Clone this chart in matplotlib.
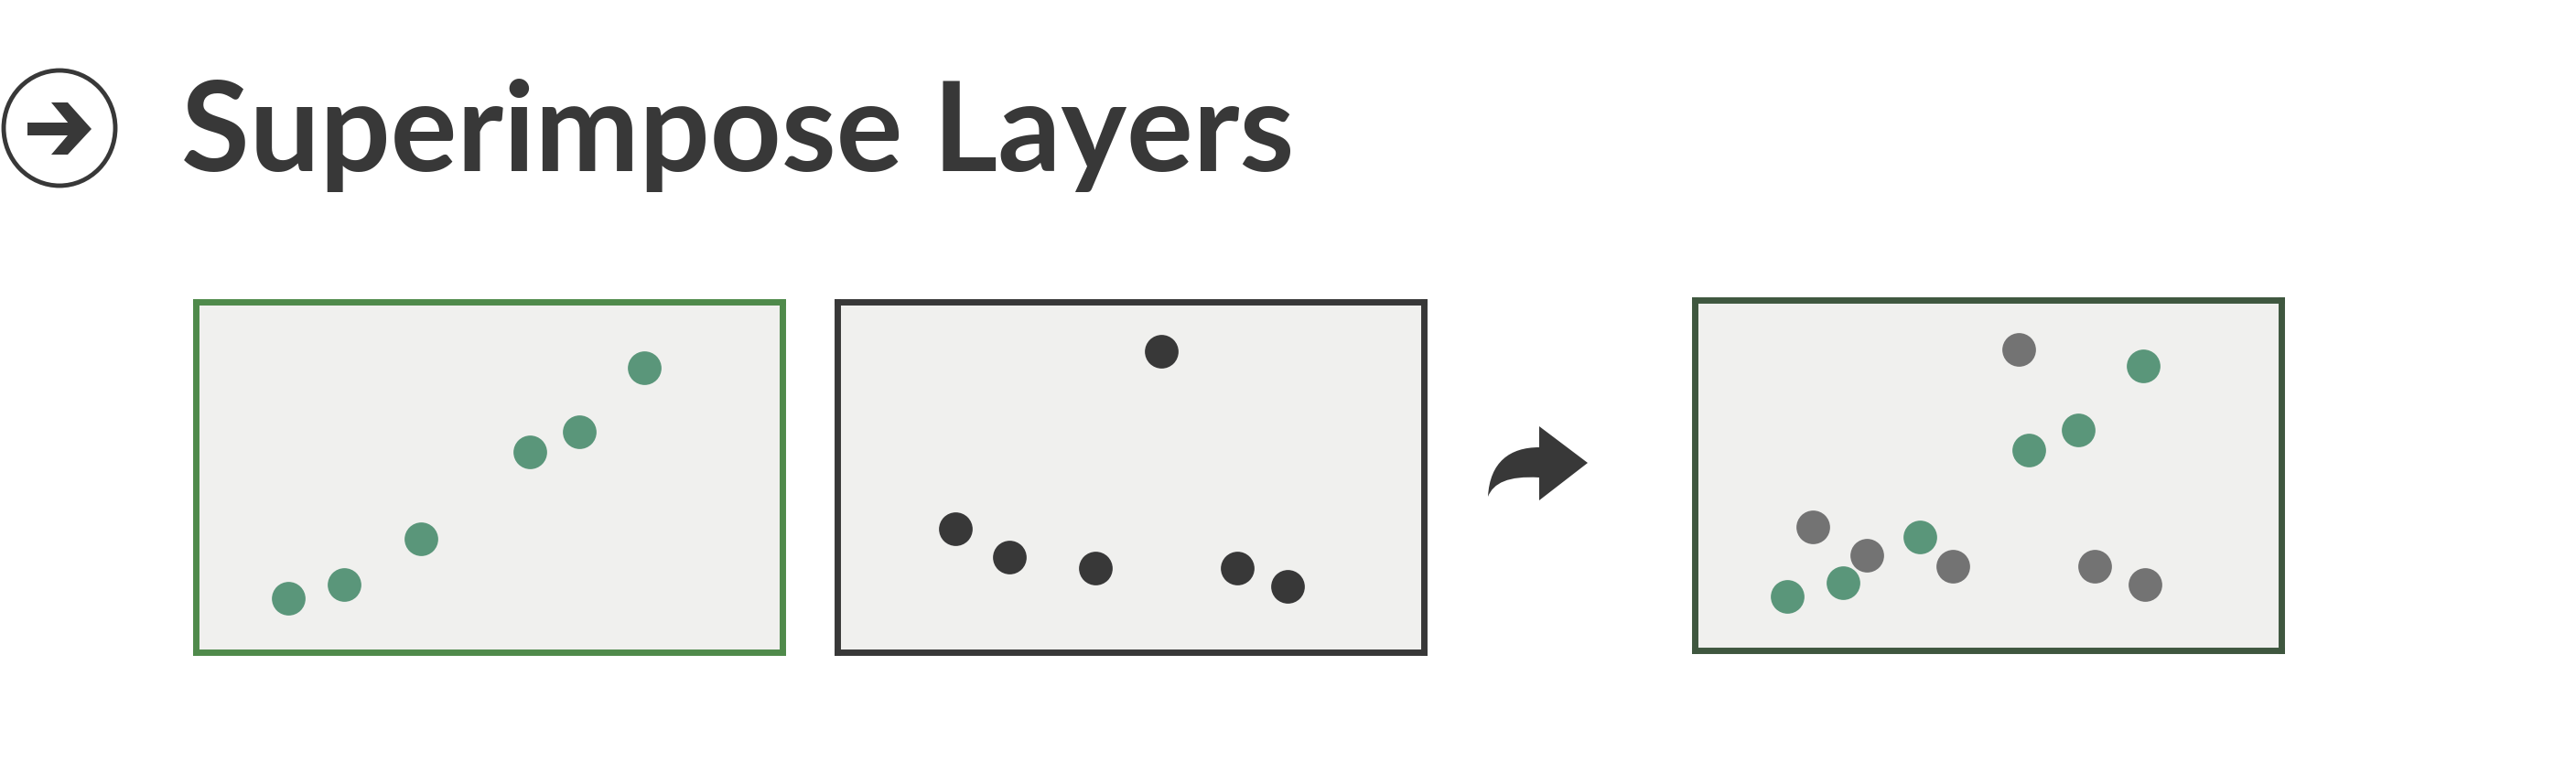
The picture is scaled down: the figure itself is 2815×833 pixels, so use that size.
import matplotlib.pyplot as plt
import matplotlib.patches as mpatches
from matplotlib.path import Path

# dados dos pontos (x, y em % da caixa)
verde_x = [15.7, 25.2, 38.4, 56.9, 65.3, 76.5]
verde_y = [15.5, 19.2, 32.4, 57.3, 62.9, 81.2]
escuro_x = [55.2, 20.2, 29.4, 44.0, 68.1, 76.8]
escuro_y = [85.9, 35.2, 27.2, 23.9, 23.9, 18.8]
titulo = 'Superimpose Layers'

W, H = 2815, 833
fig = plt.figure(figsize=(W / 100, H / 100), dpi=100, facecolor='white')


def px(x, y):
    # pixel da imagem -> fração da figura
    return (x / W, 1 - y / H)


def caixa(left, top, cor_borda):
    x0, y1 = px(left, top)
    ax = fig.add_axes([x0, y1 - 383 / H, 641 / W, 383 / H])
    ax.set_facecolor('#f0f0ee')
    ax.set_xlim(0, 100)
    ax.set_ylim(0, 100)
    ax.set_xticks([])
    ax.set_yticks([])
    for s in ax.spines.values():
        s.set_color(cor_borda)
        s.set_linewidth(5)
    return ax


ax1 = caixa(214, 330, '#4f8a4b')
ax1.scatter(verde_x, verde_y, s=700, color='#5a967a', linewidths=0)

ax2 = caixa(915, 330, '#383838')
ax2.scatter(escuro_x, escuro_y, s=700, color='#383838', linewidths=0)

ax3 = caixa(1852, 328, '#3f573f')
ax3.scatter(escuro_x, escuro_y, s=700, color='#737373', linewidths=0, zorder=3)
ax3.scatter(verde_x, verde_y, s=700, color='#5a967a', linewidths=0, zorder=3)

# seta curva entre os painéis
pts = [(1626, 543), (1628, 505), (1650, 489), (1682, 489),
       (1682, 466), (1735, 506), (1682, 547), (1682, 522),
       (1648, 520), (1632, 528), (1626, 543), (1626, 543)]
cods = [Path.MOVETO, Path.CURVE4, Path.CURVE4, Path.CURVE4,
        Path.LINETO, Path.LINETO, Path.LINETO, Path.LINETO,
        Path.CURVE4, Path.CURVE4, Path.CURVE4, Path.CLOSEPOLY]
seta = Path([px(*p) for p in pts], cods)
fig.patches.append(mpatches.PathPatch(seta, facecolor='#383838', edgecolor='none',
                                      transform=fig.transFigure))

# ícone do título
cx, cy = px(65, 140)
fig.patches.append(mpatches.Ellipse((cx, cy), 122 / W, 126 / H, facecolor='none',
                                    edgecolor='#383838', linewidth=3.5,
                                    transform=fig.transFigure))
barra = [px(30, 134), px(84, 134), px(84, 148), px(30, 148)]
fig.patches.append(mpatches.Polygon(barra, closed=True, facecolor='#383838',
                                    edgecolor='none', transform=fig.transFigure))
chevron = [px(56, 112), px(74, 112), px(100, 141), px(74, 169), px(56, 169), px(80, 141)]
fig.patches.append(mpatches.Polygon(chevron, closed=True, facecolor='#383838',
                                    edgecolor='none', transform=fig.transFigure))

tx, ty = px(198, 187)
fig.text(tx, ty, titulo, fontsize=98, fontweight='bold', family='Lato',
         color='#383838', ha='left', va='baseline')

plt.savefig('out.png', dpi=100, facecolor='white')
